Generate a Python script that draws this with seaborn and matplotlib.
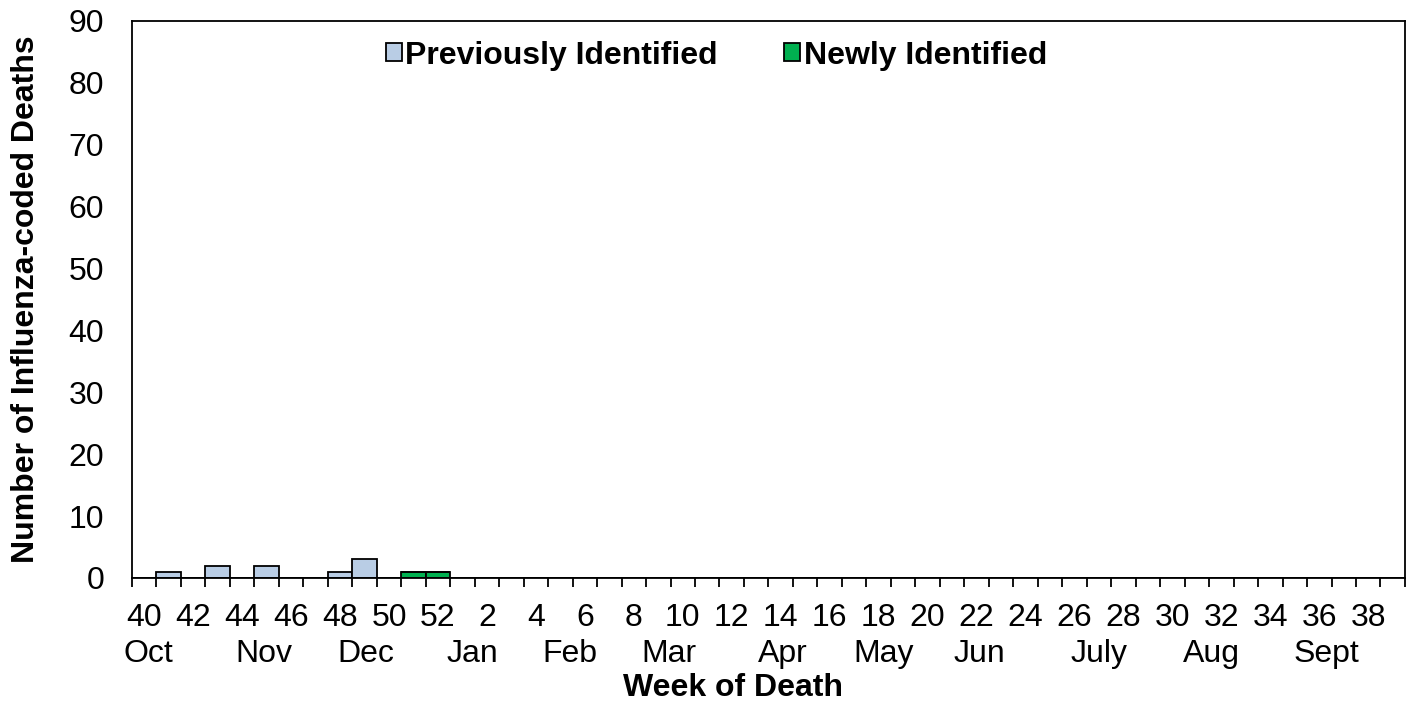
import numpy as np
import pandas as pd
import matplotlib
matplotlib.use('Agg')
import matplotlib.pyplot as plt
from matplotlib.patches import Patch
import seaborn as sns

## data
weeks = list(range(40, 53)) + list(range(1, 40))
previous = [0, 1, 0, 2, 0, 2, 0, 0, 1, 3, 0, 0, 0] + [0] * 39
newly = [0] * 11 + [1, 1] + [0] * 39
tick_weeks = weeks[::2]
months = ['Oct', 'Nov', 'Dec', 'Jan', 'Feb', 'Mar', 'Apr', 'May', 'Jun', 'July', 'Aug', 'Sept']
month_pos = [0.15, 4.9, 9.05, 13.4, 17.4, 21.45, 26.1, 30.2, 34.1, 39.0, 43.6, 48.3]

status_order = ['Previously Identified', 'Newly Identified']
colors = {'Previously Identified': '#B9CDE5', 'Newly Identified': '#00B050'}

idx = np.arange(len(weeks))
df = pd.concat([
    pd.DataFrame({'pos': idx, 'week': weeks, 'count': previous, 'status': status_order[0]}),
    pd.DataFrame({'pos': idx, 'week': weeks, 'count': newly, 'status': status_order[1]}),
])

sns.set_style('white')
plt.rcParams['font.family'] = ['Liberation Sans', 'DejaVu Sans']
plt.rcParams['text.color'] = 'black'
plt.rcParams['axes.labelcolor'] = 'black'
plt.rcParams['xtick.color'] = 'black'
plt.rcParams['ytick.color'] = 'black'

fs = 23

fig = plt.figure(figsize=(14.13, 7.07), dpi=100)
ax = fig.add_axes([0.0934, 0.1825, 0.9009, 0.7878])

sns.histplot(data=df, x='pos', weights='count', hue='status', hue_order=status_order,
             multiple='stack', discrete=True, palette=colors, alpha=1,
             edgecolor='black', linewidth=1.3, legend=False, ax=ax)

ax.set_xlim(-0.5, len(weeks) - 0.5)
ax.set_ylim(0, 90)
ax.set_yticks(range(0, 91, 10))
ax.tick_params(axis='y', length=0, pad=20, labelsize=fs)

ax.set_xticks(idx[::2])
ax.set_xticklabels([str(w) for w in tick_weeks])
ax.set_xticks(np.arange(-0.5, len(weeks)), minor=True)
ax.tick_params(axis='x', which='major', length=0, pad=18, labelsize=fs)
ax.tick_params(axis='x', which='minor', length=6.5, width=1.3, direction='out', bottom=True, color='black')

for s in ax.spines.values():
    s.set_color('black')
    s.set_linewidth(1.3)

trans = ax.get_xaxis_transform()
for m, p in zip(months, month_pos):
    ax.text(p, -0.137, m, transform=trans, ha='center', va='center', fontsize=fs)

ax.set_xlabel('')
ax.text(24.05, -0.198, 'Week of Death', transform=trans, ha='center', va='center',
        fontsize=fs, fontweight='bold')
ax.set_ylabel('Number of Influenza-coded Deaths', fontsize=fs, fontweight='bold', labelpad=20)

handles = [Patch(facecolor=colors[s], edgecolor='black', linewidth=1.3, label=s) for s in status_order]
ax.legend(handles=handles, loc='center', bbox_to_anchor=(0.459, 0.938), ncol=2, frameon=False,
          prop={'size': fs, 'weight': 'bold'}, handlelength=0.5, handleheight=0.5,
          handletextpad=0.1, columnspacing=2.1)

fig.savefig('out.png', dpi=100)
